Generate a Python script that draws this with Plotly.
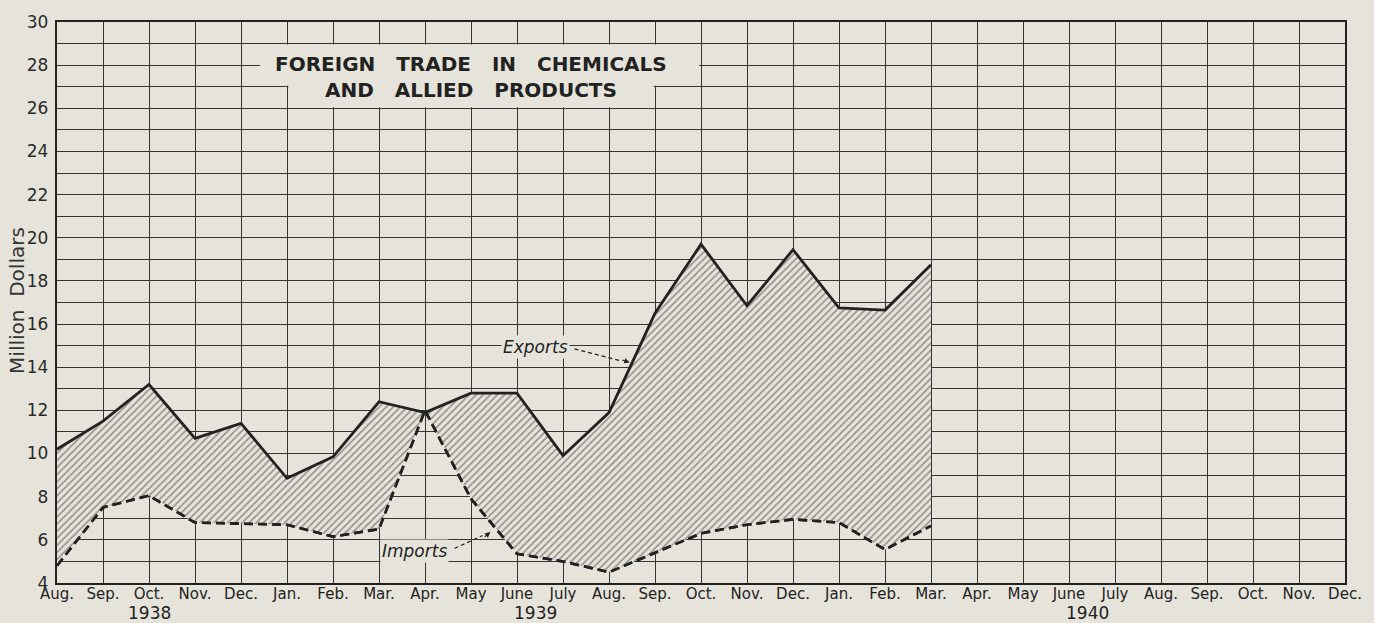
import plotly.graph_objects as go

# Monthly foreign trade in chemicals and allied products, million dollars
months = ["Aug.", "Sep.", "Oct.", "Nov.", "Dec.",
          "Jan.", "Feb.", "Mar.", "Apr.", "May", "June", "July",
          "Aug.", "Sep.", "Oct.", "Nov.", "Dec.",
          "Jan.", "Feb.", "Mar.", "Apr.", "May", "June", "July",
          "Aug.", "Sep.", "Oct.", "Nov.", "Dec."]
years = ["1938", "1939", "1940"]
year_pos = [2.02, 10.4, 22.4]

exports = [10.2, 11.5, 13.2, 10.7, 11.4, 8.85, 9.85, 12.4, 11.9, 12.8,
           12.8, 9.9, 11.9, 16.5, 19.7, 16.85, 19.45, 16.75, 16.65, 18.75]
imports = [4.8, 7.5, 8.05, 6.8, 6.75, 6.7, 6.15, 6.5, 12.0, 7.9,
           5.35, 5.0, 4.5, 5.4, 6.3, 6.7, 6.95, 6.8, 5.55, 6.65]

y_ticks = list(range(4, 31, 2))

PAPER = "#e6e4da"
INK = "#222222"
GRID = "#353533"
FONT = "DejaVu Sans"
GAP = "\u00a0\u00a0\u00a0"

x_idx = list(range(len(exports)))

fig = go.Figure()

# lower boundary (imports) – base for the hatched band
fig.add_trace(go.Scatter(
    x=x_idx, y=imports, mode="lines",
    line=dict(color=INK, width=2.6, dash="9px,5px"),
    hoverinfo="skip", showlegend=False))

# exports with hatched band down to imports
fig.add_trace(go.Scatter(
    x=x_idx, y=exports, mode="lines",
    line=dict(color=INK, width=2.8),
    fill="tonexty", fillcolor=PAPER,
    fillpattern=dict(shape="/", fgcolor="#3e3e3c", bgcolor=PAPER,
                     size=5, solidity=0.34),
    hoverinfo="skip", showlegend=False))

# imports line redrawn on top of the band
fig.add_trace(go.Scatter(
    x=x_idx, y=imports, mode="lines",
    line=dict(color=INK, width=2.6, dash="9px,5px"),
    hoverinfo="skip", showlegend=False))

shapes = [
    # panel behind the title, blanking the grid
    dict(type="rect", xref="x", yref="y", x0=4.41, x1=13.96, y0=27.04, y1=28.96,
         fillcolor=PAPER, line=dict(width=0), layer="between"),
    dict(type="rect", xref="x", yref="y", x0=5.03, x1=12.97, y0=26.05, y1=27.1,
         fillcolor=PAPER, line=dict(width=0), layer="between"),
    # dashed leaders of the series labels
    dict(type="line", xref="x", yref="y", x0=11.25, y0=14.85, x1=12.25, y1=14.3,
         line=dict(color=INK, width=1.2, dash="4px,3px"), layer="above"),
    dict(type="line", xref="x", yref="y", x0=8.64, y0=5.6, x1=9.25, y1=6.2,
         line=dict(color=INK, width=1.2, dash="4px,3px"), layer="above"),
]

annotations = [
    dict(text=GAP.join(["FOREIGN", "TRADE", "IN", "CHEMICALS"]),
         x=9.0, y=28.04, xref="x", yref="y", showarrow=False,
         font=dict(family=FONT, size=20, color=INK, weight="bold")),
    dict(text=GAP.join(["AND", "ALLIED", "PRODUCTS"]),
         x=9.0, y=26.84, xref="x", yref="y", showarrow=False,
         font=dict(family=FONT, size=20, color=INK, weight="bold")),
    dict(text="<i>Exports</i>", x=10.4, y=14.95, xref="x", yref="y",
         showarrow=False, bgcolor=PAPER, borderpad=1,
         font=dict(family=FONT, size=17, color=INK)),
    dict(text="<i>Imports</i>", x=7.78, y=5.5, xref="x", yref="y",
         showarrow=False, bgcolor=PAPER, borderpad=1,
         font=dict(family=FONT, size=17, color=INK)),
    # arrowheads at the ends of the leaders
    dict(text="", x=12.45, y=14.22, xref="x", yref="y", ax=-9, ay=-3,
         showarrow=True, arrowhead=2, arrowsize=0.9, arrowwidth=1.2,
         arrowcolor=INK),
    dict(text="", x=9.42, y=6.36, xref="x", yref="y", ax=-7, ay=6,
         showarrow=True, arrowhead=2, arrowsize=0.9, arrowwidth=1.2,
         arrowcolor=INK),
    # axis title
    dict(text="Million\u00a0\u00a0Dollars", xref="paper", yref="paper",
         x=-0.031, y=0.503, xanchor="center", yanchor="middle",
         textangle=-90, showarrow=False,
         font=dict(family=FONT, size=20, color="#333333")),
]
for yr, pos in zip(years, year_pos):
    annotations.append(dict(text=yr, x=pos, y=0, xref="x", yref="paper",
                            xanchor="center", yanchor="middle", yshift=-30,
                            showarrow=False,
                            font=dict(family=FONT, size=17, color=INK)))

fig.update_layout(
    width=1374, height=623,
    margin=dict(l=57, r=28, t=16, b=40),
    paper_bgcolor=PAPER, plot_bgcolor=PAPER,
    shapes=shapes, annotations=annotations,
    xaxis=dict(range=[0, 28], tickvals=list(range(len(months))), ticktext=months,
               showgrid=True, gridcolor=GRID, gridwidth=1.3, zeroline=False,
               showline=True, linecolor=INK, linewidth=2.4, mirror=True,
               ticks="", ticklabelstandoff=-4,
               tickfont=dict(family=FONT, size=15, color=INK)),
    yaxis=dict(range=[4, 30], tickvals=y_ticks, ticktext=[str(v) for v in y_ticks],
               showgrid=True, gridcolor=GRID, gridwidth=1.3, zeroline=False,
               minor=dict(dtick=1, showgrid=True, gridcolor=GRID, gridwidth=1.3),
               showline=True, linecolor=INK, linewidth=2.4, mirror=True,
               ticks="", ticklabelstandoff=3,
               tickfont=dict(family=FONT, size=17, color="#2a2a2a")),
)

fig.write_html("out.html")
